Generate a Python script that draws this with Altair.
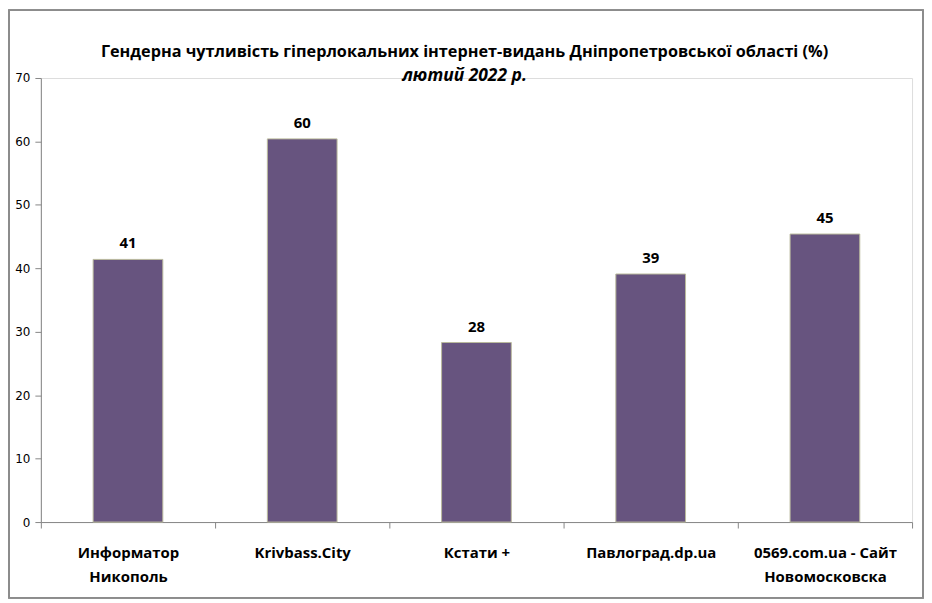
import altair as alt
import pandas as pd

categories = ["Информатор\nНикополь", "Krivbass.City", "Кстати +", "Павлоград.dp.ua", "0569.com.ua - Сайт\nНовомосковска"]
values = [41.4, 60.4, 28.3, 39.1, 45.4]

df = pd.DataFrame({"site": categories, "value": values})

W, H = 875, 446
FONT = "Open Sans"

base = alt.Chart(df).encode(
    x=alt.X("site:N", sort=categories,
            scale=alt.Scale(paddingInner=0, paddingOuter=0),
            axis=alt.Axis(title=None, labelAngle=0, tickBand="extent",
                          labelExpr="split(datum.label, '\\n')",
                          labelFont=FONT, labelFontSize=15, labelFontWeight="bold",
                          labelColor="#000000", labelPadding=18, labelLineHeight=24,
                          domainColor="#868686", tickColor="#868686", tickSize=6,
                          labelBaseline="top")),
)

bars = base.mark_bar(color="#67547f", stroke="#b9b99c", strokeWidth=1,
                     width=alt.RelativeBandSize(0.4)).encode(
    y=alt.Y("value:Q", scale=alt.Scale(domain=[0, 70], nice=False),
            axis=alt.Axis(title=None, values=list(range(0, 71, 10)), grid=False,
                          labelFont="DejaVu Sans", labelFontSize=12, labelColor="#000000",
                          domainColor="#868686", tickColor="#868686", tickSize=6,
                          labelPadding=5))
)

labels = base.mark_text(dy=-16, font=FONT, fontSize=15, fontWeight="bold", color="#000000").encode(
    y="value:Q",
    text=alt.Text("value:Q", format=".0f"),
)

frame = alt.Chart(df).mark_rect(fill=None, stroke="#8c8c8c", strokeWidth=1.5).encode(
    x=alt.value(-32), x2=alt.value(886), y=alt.value(-68), y2=alt.value(522)
)

chart = alt.layer(bars, labels, frame).properties(
    width=W, height=H,
    title=alt.Title(
        "Гендерна чутливість гіперлокальних інтернет-видань Дніпропетровської області (%)",
        subtitle="лютий 2022 р.",
        font=FONT, fontSize=16.3, fontWeight="bold", color="#000000",
        subtitleFont=FONT, subtitleFontSize=17.5, subtitleFontStyle="italic",
        subtitleFontWeight="bold", subtitleColor="#000000", subtitlePadding=7,
        anchor="middle", offset=-75, dx=-12,
    ),
    autosize=alt.AutoSizeParams(type="none"),
    padding={"left": 33, "top": 69, "right": 12, "bottom": 78},
).configure_view(strokeWidth=0).configure(background="white")

chart.save("out.html", embed_options={"renderer": "svg", "actions": False})
